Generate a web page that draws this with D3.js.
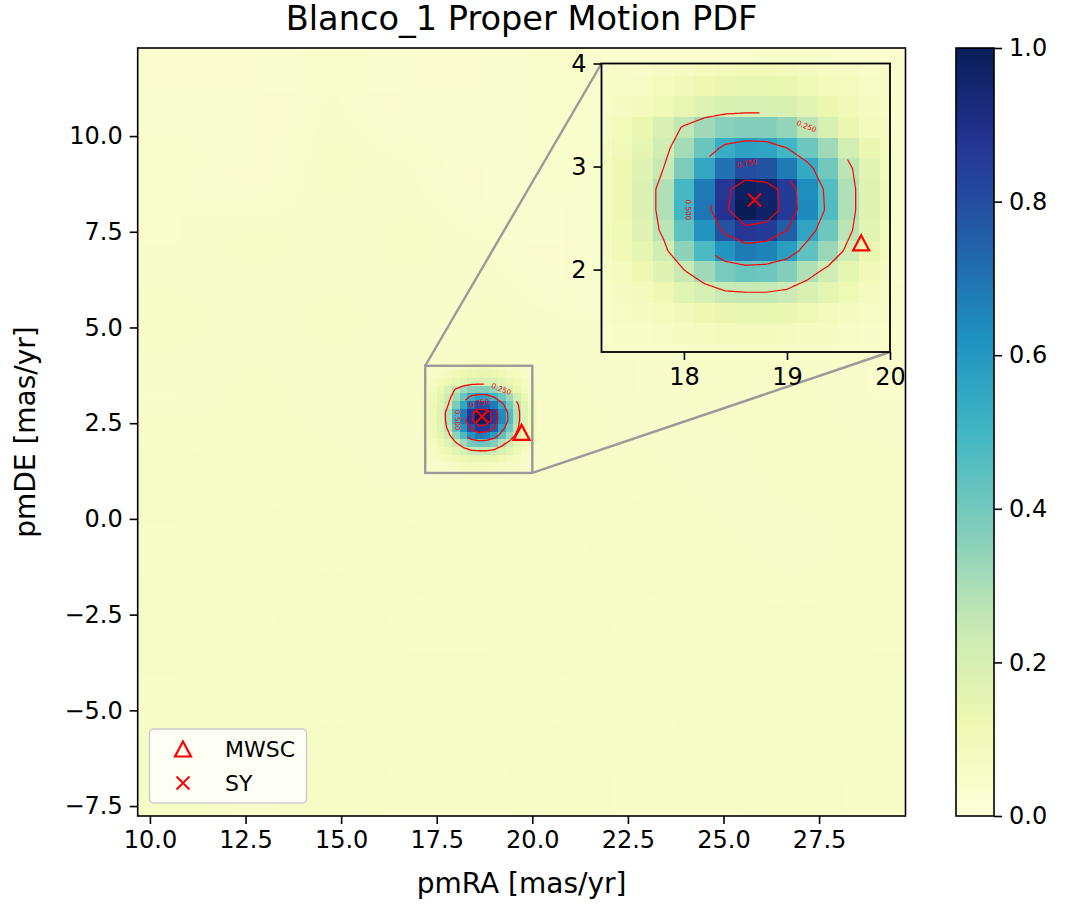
<!DOCTYPE html>
<html><head><meta charset="utf-8">
<script src="https://cdn.jsdelivr.net/npm/d3@7"></script>
<style>body{margin:0;background:#fff}svg{display:block}text{font-family:"DejaVu Sans",sans-serif}</style>
</head><body>
<svg id="chart" width="1072" height="906"></svg>
<script>
// ---------------- data ----------------
const title = "Blanco_1 Proper Motion PDF";
const xLabel = "pmRA [mas/yr]";
const yLabel = "pmDE [mas/yr]";
const xDomain = [9.68, 29.76];
const yDomain = [-7.76, 12.30];
const xTicks = [10, 12.5, 15, 17.5, 20, 22.5, 25, 27.5];
const yTicks = [-7.5, -5, -2.5, 0, 2.5, 5, 7.5, 10];
const insetXDomain = [17.2, 20];
const insetYDomain = [1.2, 4];
const insetXTicks = [18, 19, 20];
const insetYTicks = [2, 3, 4];
const cbarTicks = [0, 0.2, 0.4, 0.6, 0.8, 1.0];
const cmapColors = ["#ffffd9","#edf8b1","#c7e9b4","#7fcdbb","#41b6c4","#1d91c0","#225ea8","#253494","#081d58"];
const contourLevels = [0.25, 0.5, 0.75, 0.9];
// angular gap (degrees, around each contour's centre) left open for the inline labels
const contourGapFrom = [25, 135, 33, null];
const contourGapTo = [87, 232, 180, null];
const contourLabelText = ["0.250", "0.750", "0.500"];
const contourLabelX = [19.19, 18.61, 18.04];
const contourLabelY = [3.39, 3.03, 2.58];
const contourLabelAngle = [22, -12, 90];
const markerNames = ["MWSC", "SY"];
const markerX = [19.72, 18.685];
const markerY = [2.26, 2.675];
// PDF grid near the peak: 0.2 mas/yr cells, x from 17.1 to 20.1, y from 4.08 down to 1.08 (rows top->bottom)
const cellSize = 0.2;
const peakX0 = 17.1;
const peakYTop = 4.08;
const peakGrid = [
  [.04,.05,.05,.06,.07,.08,.09,.10,.10,.09,.08,.07,.06,.05,.05],
  [.05,.05,.06,.08,.10,.12,.13,.14,.14,.13,.11,.09,.08,.06,.05],
  [.05,.07,.09,.11,.14,.17,.19,.20,.20,.19,.16,.13,.10,.08,.06],
  [.06,.09,.13,.19,.26,.32,.36,.37,.37,.34,.27,.19,.13,.09,.07],
  [.07,.10,.15,.22,.31,.42,.53,.57,.56,.50,.41,.32,.21,.13,.08],
  [.08,.12,.17,.25,.38,.55,.70,.80,.78,.68,.54,.40,.27,.16,.09],
  [.08,.12,.18,.29,.49,.68,.87,.98,.96,.85,.63,.46,.29,.17,.10],
  [.08,.12,.18,.29,.50,.69,.88,1.0,.97,.86,.64,.47,.29,.17,.10],
  [.08,.11,.17,.27,.44,.61,.78,.87,.85,.75,.56,.41,.27,.16,.09],
  [.07,.10,.15,.22,.35,.48,.61,.68,.66,.58,.44,.33,.22,.13,.08],
  [.06,.08,.12,.17,.24,.32,.39,.42,.41,.37,.29,.22,.15,.10,.07],
  [.05,.07,.09,.12,.16,.20,.24,.25,.25,.23,.19,.15,.11,.08,.06],
  [.05,.06,.07,.08,.10,.12,.13,.14,.14,.13,.11,.09,.07,.06,.05],
  [.04,.05,.05,.06,.07,.08,.09,.09,.09,.08,.07,.07,.06,.05,.04],
  [.04,.04,.05,.05,.05,.06,.06,.07,.07,.06,.06,.05,.05,.04,.04]
];
// coarse background level of the PDF over the whole field (2 mas/yr blocks, rows top->bottom)
const bgGrid = [
  [.03,.03,.04,.03,.03,.04,.03,.03,.04,.03],
  [.04,.03,.05,.04,.03,.04,.04,.03,.03,.04],
  [.04,.05,.04,.05,.04,.03,.05,.04,.04,.03],
  [.05,.04,.05,.04,.05,.04,.04,.05,.04,.04],
  [.04,.05,.04,.05,.06,.05,.04,.05,.05,.04],
  [.06,.05,.05,.04,.05,.05,.05,.04,.05,.05],
  [.05,.06,.05,.06,.05,.05,.06,.05,.04,.05],
  [.06,.05,.06,.05,.05,.06,.05,.05,.06,.05],
  [.05,.06,.05,.06,.06,.05,.05,.06,.05,.06],
  [.06,.05,.06,.05,.05,.06,.05,.05,.06,.05]
];

// ---------------- layout ----------------
const svg = d3.select("#chart");
const M = {left:137.7, right:905.5, top:48, bottom:816};
const I = {left:601.5, right:890, top:63.5, bottom:352};
const CB = {left:956, right:994, top:48, bottom:816};
const x = d3.scaleLinear().domain(xDomain).range([M.left, M.right]);
const y = d3.scaleLinear().domain(yDomain).range([M.bottom, M.top]);
const xi = d3.scaleLinear().domain(insetXDomain).range([I.left, I.right]);
const yi = d3.scaleLinear().domain(insetYDomain).range([I.bottom, I.top]);
const color = d3.scaleLinear().domain(d3.range(cmapColors.length).map(i => i/(cmapColors.length-1)))
  .range(cmapColors).interpolate(d3.interpolateRgb).clamp(true);

function gridImage(grid){
  const h = grid.length, w = grid[0].length;
  const c = document.createElement("canvas"); c.width = w; c.height = h;
  const ctx = c.getContext("2d"); const img = ctx.createImageData(w, h);
  grid.forEach((row, j) => row.forEach((v, i) => {
    const col = d3.rgb(color(v)); const k = (j*w + i)*4;
    img.data[k] = col.r; img.data[k+1] = col.g; img.data[k+2] = col.b; img.data[k+3] = 255;
  }));
  ctx.putImageData(img, 0, 0);
  return c.toDataURL();
}
const bgURL = gridImage(bgGrid);
const peakURL = gridImage(peakGrid);
const nx = peakGrid[0].length, ny = peakGrid.length;
const contours = d3.contours().size([nx, ny]).thresholds(contourLevels)(peakGrid.flat());

// contour rings in data coordinates, split into runs that leave the label gaps open
function ringRuns(ring, gFrom, gTo){
  const c = d3.polygonCentroid(ring);
  const dense = [];
  for (let i = 0; i < ring.length - 1; i++) {
    const [x0, y0] = ring[i], [x1, y1] = ring[i+1];
    for (let s = 0; s < 12; s++) { const t = s/12; dense.push([x0 + (x1-x0)*t, y0 + (y1-y0)*t]); }
  }
  if (gFrom == null) { dense.push(dense[0]); return [dense]; }
  const inGap = p => { let a = Math.atan2(p[1]-c[1], p[0]-c[0])*180/Math.PI; if (a < 0) a += 360; return a >= gFrom && a <= gTo; };
  const start = dense.findIndex(inGap);
  if (start < 0) { dense.push(dense[0]); return [dense]; }
  const runs = []; let cur = [];
  for (let k = 0; k <= dense.length; k++) {
    const p = dense[(start + k) % dense.length];
    if (inGap(p)) { if (cur.length > 1) runs.push(cur); cur = []; } else cur.push(p);
  }
  if (cur.length > 1) runs.push(cur);
  return runs;
}
const contourRuns = [];
contours.forEach((cn, li) => {
  cn.coordinates.forEach(poly => poly.forEach(ring => {
    const dataRing = ring.map(([u, w]) => [peakX0 + cellSize*u, peakYTop - cellSize*w]);
    ringRuns(dataRing, contourGapFrom[li], contourGapTo[li]).forEach(r => contourRuns.push(r));
  }));
});

const defs = svg.append("defs");

function panel(sx, sy, box, id, withBg, lw){
  defs.append("clipPath").attr("id", "clip"+id).append("rect")
    .attr("x", box.left).attr("y", box.top).attr("width", box.right-box.left).attr("height", box.bottom-box.top);
  const g = svg.append("g").attr("clip-path", `url(#clip${id})`);
  if (withBg) {
    g.append("image").attr("href", bgURL).attr("preserveAspectRatio", "none")
      .attr("x", sx(xDomain[0])).attr("y", sy(yDomain[1]))
      .attr("width", sx(xDomain[1]) - sx(xDomain[0])).attr("height", sy(yDomain[0]) - sy(yDomain[1]));
  }
  g.append("image").attr("href", peakURL).attr("preserveAspectRatio", "none")
    .style("image-rendering", "pixelated")
    .attr("x", sx(peakX0)).attr("y", sy(peakYTop))
    .attr("width", sx(peakX0 + nx*cellSize) - sx(peakX0))
    .attr("height", sy(peakYTop - ny*cellSize) - sy(peakYTop));
  const line = d3.line().x(d => sx(d[0])).y(d => sy(d[1]));
  g.append("g").selectAll("path").data(contourRuns).join("path")
    .attr("d", line).attr("fill", "none").attr("stroke", "#ff0000").attr("stroke-width", lw)
    .attr("stroke-linejoin", "round");
  contourLabelText.forEach((t, k) => {
    g.append("text").text(t).attr("font-size", 7.2).attr("fill", "#ff0000")
      .attr("text-anchor", "middle").attr("dominant-baseline", "central")
      .attr("transform", `translate(${sx(contourLabelX[k])},${sy(contourLabelY[k])}) rotate(${contourLabelAngle[k]})`);
  });
  drawTri(g, sx(markerX[0]), sy(markerY[0]));
  drawX(g, sx(markerX[1]), sy(markerY[1]));
  return g;
}
function drawTri(g, cx, cy){
  g.append("path").attr("d", `M${cx},${cy-7.5}L${cx-8},${cy+7.5}L${cx+8},${cy+7.5}Z`)
    .attr("fill", "none").attr("stroke", "#ff0000").attr("stroke-width", 2.2).attr("stroke-linejoin", "miter");
}
function drawX(g, cx, cy){
  const s = 6.5;
  g.append("path").attr("d", `M${cx-s},${cy-s}L${cx+s},${cy+s}M${cx-s},${cy+s}L${cx+s},${cy-s}`)
    .attr("stroke", "#ff0000").attr("stroke-width", 2);
}
function styleAxis(a){
  a.select(".domain").remove();
  a.selectAll(".tick line").attr("stroke", "#000").attr("stroke-width", 1.6);
  a.selectAll(".tick text").attr("font-size", 24).attr("font-family", "DejaVu Sans").attr("fill", "#000");
}

// ---------------- main panel ----------------
panel(x, y, M, "main", true, 1.3);
svg.append("rect").attr("x", M.left).attr("y", M.top).attr("width", M.right-M.left).attr("height", M.bottom-M.top)
  .attr("fill", "none").attr("stroke", "#000").attr("stroke-width", 1.6);
styleAxis(svg.append("g").attr("transform", `translate(0,${M.bottom})`)
  .call(d3.axisBottom(x).tickValues(xTicks).tickFormat(d3.format(".1f")).tickSize(8).tickPadding(7)));
styleAxis(svg.append("g").attr("transform", `translate(${M.left},0)`)
  .call(d3.axisLeft(y).tickValues(yTicks).tickFormat(d => d3.format(".1f")(d).replace("-", "\u2212")).tickSize(8).tickPadding(7)));

// inset indicator
const ig = svg.append("g").attr("fill", "none").attr("stroke", "#9a9a9a").attr("stroke-width", 2.4);
ig.append("rect").attr("x", x(insetXDomain[0])).attr("y", y(insetYDomain[1]))
  .attr("width", x(insetXDomain[1]) - x(insetXDomain[0])).attr("height", y(insetYDomain[0]) - y(insetYDomain[1]));
ig.append("line").attr("x1", x(insetXDomain[0])).attr("y1", y(insetYDomain[1])).attr("x2", xi(insetXDomain[0])).attr("y2", yi(insetYDomain[1]));
ig.append("line").attr("x1", x(insetXDomain[1])).attr("y1", y(insetYDomain[0])).attr("x2", xi(insetXDomain[1])).attr("y2", yi(insetYDomain[0]));

// ---------------- inset panel ----------------
panel(xi, yi, I, "inset", false, 1.2);
svg.append("rect").attr("x", I.left).attr("y", I.top).attr("width", I.right-I.left).attr("height", I.bottom-I.top)
  .attr("fill", "none").attr("stroke", "#000").attr("stroke-width", 1.8);
styleAxis(svg.append("g").attr("transform", `translate(0,${I.bottom})`)
  .call(d3.axisBottom(xi).tickValues(insetXTicks).tickFormat(d3.format("d")).tickSize(8).tickPadding(8)));
styleAxis(svg.append("g").attr("transform", `translate(${I.left},0)`)
  .call(d3.axisLeft(yi).tickValues(insetYTicks).tickFormat(d3.format("d")).tickSize(8).tickPadding(7)));

// ---------------- legend ----------------
const lg = svg.append("g");
lg.append("rect").attr("x", 149.5).attr("y", 729).attr("width", 157).attr("height", 74).attr("rx", 4)
  .attr("fill", "#fff").attr("fill-opacity", 0.8).attr("stroke", "#cccccc").attr("stroke-width", 1.5);
drawTri(lg, 183, 749);
drawX(lg, 183, 783);
markerNames.forEach((n, k) => {
  lg.append("text").text(n).attr("x", 225).attr("y", [749, 783][k]).attr("dominant-baseline", "central")
    .attr("font-size", 22).attr("fill", "#000");
});

// ---------------- colorbar ----------------
const grad = defs.append("linearGradient").attr("id", "cbgrad").attr("x1", 0).attr("y1", 1).attr("x2", 0).attr("y2", 0);
d3.range(0, 1.0001, 0.02).forEach(t => grad.append("stop").attr("offset", t).attr("stop-color", color(t)));
svg.append("rect").attr("x", CB.left).attr("y", CB.top).attr("width", CB.right-CB.left).attr("height", CB.bottom-CB.top)
  .attr("fill", "url(#cbgrad)").attr("stroke", "#000").attr("stroke-width", 1.6);
const cy = d3.scaleLinear().domain([0, 1]).range([CB.bottom, CB.top]);
styleAxis(svg.append("g").attr("transform", `translate(${CB.right},0)`)
  .call(d3.axisRight(cy).tickValues(cbarTicks).tickFormat(d3.format(".1f")).tickSize(8).tickPadding(7)));

// ---------------- titles ----------------
svg.append("text").text(title).attr("x", (M.left+M.right)/2).attr("y", 30).attr("text-anchor", "middle")
  .attr("font-size", 33.6).attr("fill", "#000");
svg.append("text").text(xLabel).attr("x", (M.left+M.right)/2).attr("y", 893).attr("text-anchor", "middle")
  .attr("font-size", 28).attr("fill", "#000");
svg.append("text").text(yLabel).attr("transform", `translate(35,${(M.top+M.bottom)/2}) rotate(-90)`)
  .attr("text-anchor", "middle").attr("font-size", 28).attr("fill", "#000");
</script>
</body></html>
